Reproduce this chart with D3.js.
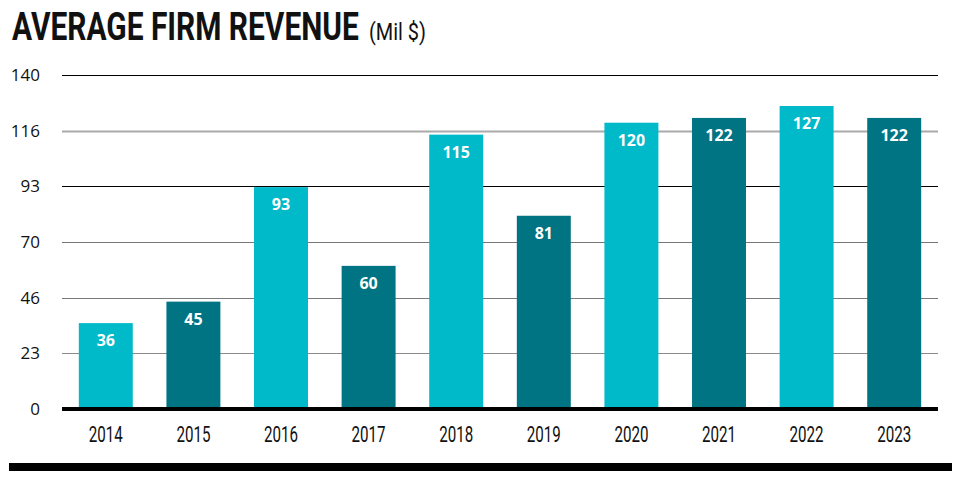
<!DOCTYPE html>
<html>
<head>
<meta charset="utf-8">
<script src="https://cdn.jsdelivr.net/npm/d3@7"></script>
<style>
  html, body { margin: 0; padding: 0; background: #fff; }
  svg { display: block; }
</style>
</head>
<body>
<svg id="chart" width="959" height="485"></svg>
<script>
const years = ["2014","2015","2016","2017","2018","2019","2020","2021","2022","2023"];
const revenue = [36, 45, 93, 60, 115, 81, 120, 122, 127, 122];
const tickValues = [0, 140/6, 280/6, 70, 560/6, 700/6, 140];
const tickLabels = ["0", "23", "46", "70", "93", "116", "140"];
const gridColors = ["#000", "#8a8a8a", "#7a7a7a", "#777", "#000", "#aaa", "#000"];
const barColors = ["#00b9c9", "#007482"];

const svg = d3.select("#chart");
const x = d3.scaleBand().domain(years).range([62, 938]).paddingInner(0.384).paddingOuter(0.192);
const y = d3.scaleLinear().domain([0, 140]).range([409, 75]);

// title (condensed via horizontal scale)
function condensed(sel, x0, y0, width) {
  const len = sel.node().getComputedTextLength();
  sel.attr("x", 0).attr("y", 0)
    .attr("transform", `translate(${x0},${y0}) scale(${width / len},1)`);
}
const title = svg.append("text")
  .attr("font-family", "Roboto, 'Liberation Sans', sans-serif")
  .attr("font-weight", 700).attr("font-size", 38).attr("fill", "#111")
  .text("AVERAGE FIRM REVENUE");
condensed(title, 12, 40, 347);
const unit = svg.append("text")
  .attr("font-family", "Roboto, 'Liberation Sans', sans-serif")
  .attr("font-size", 24).attr("fill", "#111")
  .text("(Mil $)");
condensed(unit, 369, 40, 57);

// gridlines
svg.append("g").selectAll("line").data(tickValues.slice(1)).join("line")
  .attr("x1", 62).attr("x2", 938)
  .attr("y1", d => Math.round(y(d)) + 0.5).attr("y2", d => Math.round(y(d)) + 0.5)
  .attr("stroke", (d, i) => gridColors[i + 1])
  .attr("stroke-width", (d, i) => i === 4 ? 2 : 1.2);

// y axis labels
const yAxis = d3.axisLeft(y).tickValues(tickValues).tickFormat((d, i) => tickLabels[i]).tickSize(0).tickPadding(0);
const ya = svg.append("g").attr("transform", "translate(40,0)").call(yAxis);
ya.select(".domain").remove();
ya.selectAll("text").attr("font-family", "'Open Sans', 'Noto Sans', sans-serif")
  .attr("font-size", 17).attr("fill", "#111");

// bars
svg.append("g").selectAll("rect").data(revenue).join("rect")
  .attr("x", (d, i) => x(years[i]))
  .attr("width", x.bandwidth())
  .attr("y", d => y(d))
  .attr("height", d => y(0) - y(d))
  .attr("fill", (d, i) => barColors[i % 2]);

// value labels
svg.append("g").selectAll("text").data(revenue).join("text")
  .attr("x", (d, i) => x(years[i]) + x.bandwidth() / 2)
  .attr("y", d => y(d) + 23)
  .attr("text-anchor", "middle")
  .attr("font-family", "'Open Sans', 'Noto Sans', sans-serif")
  .attr("font-weight", 700).attr("font-size", 16).attr("fill", "#fff")
  .text(d => d);

// baseline
svg.append("line").attr("x1", 62).attr("x2", 938).attr("y1", y(0)).attr("y2", y(0))
  .attr("stroke", "#000").attr("stroke-width", 4);

// x axis labels
const xAxis = d3.axisBottom(x).tickSize(0).tickPadding(0);
const xa = svg.append("g").attr("transform", "translate(0,426)").call(xAxis);
xa.select(".domain").remove();
xa.selectAll("text")
  .attr("dy", "0.71em")
  .attr("font-family", "Roboto, 'Liberation Sans', sans-serif")
  .attr("font-size", 22).attr("fill", "#111")
  .attr("textLength", 34).attr("lengthAdjust", "spacingAndGlyphs");

// bottom rule
svg.append("rect").attr("x", 9).attr("y", 463).attr("width", 943).attr("height", 8).attr("fill", "#000");
</script>
</body>
</html>
